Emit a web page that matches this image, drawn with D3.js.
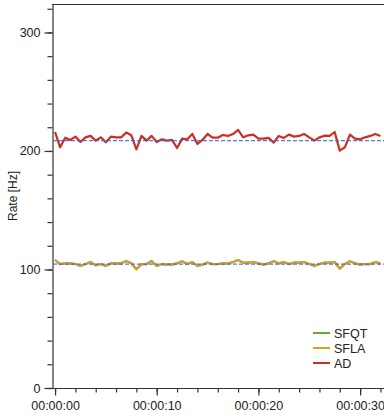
<!DOCTYPE html>
<html><head><meta charset="utf-8">
<script src="https://cdn.jsdelivr.net/npm/d3@7"></script>
<style>
body{margin:0;background:#fff;}
svg{display:block;font-family:"Liberation Sans",Arial,Helvetica,sans-serif;}
</style></head>
<body>
<svg id="c" width="384" height="419"></svg>
<script>
const times = d3.range(0, 32.01, 0.5);
const adValues = [216.0,203.1,211.2,209.3,212.1,207.6,211.5,212.7,208.7,211.5,207.3,212.1,211.5,211.5,215.5,213.2,201.4,212.7,208.7,212.7,207.6,209.8,208.7,209.3,202.5,210.4,209.8,214.3,205.9,209.3,214.3,211.2,211.2,213.5,212.7,214.3,217.7,211.5,213.2,213.8,210.4,210.4,211.0,207.0,212.7,211.0,213.8,212.1,212.7,214.3,211.5,208.7,211.5,212.9,212.7,216.0,200.3,203.1,213.8,210.4,209.8,211.5,212.7,214.3,212.7];
const sflaValues = [108.0,104.6,105.2,105.2,104.6,103.0,104.6,106.3,103.5,104.6,103.0,105.2,105.2,105.2,107.2,105.2,100.2,104.6,104.6,107.2,103.0,104.6,104.1,104.1,105.2,106.9,104.6,106.3,103.0,104.1,105.8,104.6,104.6,105.2,105.2,106.3,108.0,105.8,105.8,106.3,105.2,104.1,105.2,106.9,105.2,106.3,104.6,105.8,105.8,106.3,104.6,103.0,104.6,105.8,105.8,106.3,100.7,104.6,106.9,105.2,104.1,104.6,104.6,106.3,105.2];
const sfqtValues = [108.0,104.6,105.2,105.2,104.6,103.0,104.6,106.3,103.5,104.6,103.0,105.2,105.2,105.2,107.2,105.2,100.2,104.6,104.6,107.2,103.0,104.6,104.1,104.1,105.2,106.9,104.6,106.3,103.0,104.1,105.8,104.6,104.6,105.2,105.2,106.3,108.0,105.8,105.8,106.3,105.2,104.1,105.2,106.9,105.2,106.3,104.6,105.8,105.8,106.3,104.6,103.0,104.6,105.8,105.8,106.3,100.7,104.6,106.9,105.2,104.1,104.6,104.6,106.3,105.2];
const refLevels = [208.7, 104.6];
const seriesNames = ["SFQT","SFLA","AD"];
const seriesColors = ["#6aa83a","#d9a21e","#cc2f1c"];
const yTicks = [0,100,200,300];
const xTicks = [0,10,20,30];
const xTickLabels = ["00:00:00","00:00:10","00:00:20","00:00:30"];

const svg = d3.select("#c");
const x = d3.scaleLinear().domain([-0.3, 32.35]).range([52, 384]);
const y = d3.scaleLinear().domain([0, 324]).range([388, 4]);
const axisColor = "#333";

// top frame
svg.append("line").attr("x1",52).attr("x2",384).attr("y1",4.5).attr("y2",4.5)
  .attr("stroke",axisColor).attr("stroke-width",1.2);

// y axis minor
const yAxMinor = svg.append("g").attr("transform","translate(52.5,0)")
  .call(d3.axisLeft(y).tickValues(d3.range(0,324,20)).tickSize(5).tickFormat(""));
const yAx = svg.append("g").attr("transform","translate(52.5,0)")
  .call(d3.axisLeft(y).tickValues(yTicks).tickSize(8).tickPadding(4));
[yAxMinor,yAx].forEach(g=>{g.selectAll("path,line").attr("stroke",axisColor).attr("stroke-width",1.2);});
yAxMinor.select(".domain").remove();
yAx.select(".domain").attr("d","M0.5,4V388.5");
yAx.selectAll("text").attr("font-size","12.5px").attr("fill","#222").attr("font-family","Liberation Sans, Arial, sans-serif");

// x axis
const xAxMinor = svg.append("g").attr("transform","translate(0,388.5)")
  .call(d3.axisBottom(x).tickValues(d3.range(0,33,2)).tickSize(4).tickFormat(""));
const xAx = svg.append("g").attr("transform","translate(0,388.5)")
  .call(d3.axisBottom(x).tickValues(xTicks).tickSize(7).tickPadding(6).tickFormat((d,i)=>xTickLabels[i]));
[xAxMinor,xAx].forEach(g=>{g.selectAll("path,line").attr("stroke",axisColor).attr("stroke-width",1.2);});
xAxMinor.select(".domain").remove();
xAx.select(".domain").attr("d","M52,0H384");
xAx.selectAll("text").attr("font-size","12.5px").attr("fill","#222").attr("font-family","Liberation Sans, Arial, sans-serif");

// y label
svg.append("text").attr("transform","translate(17,196) rotate(-90)")
  .attr("text-anchor","middle").attr("font-size","12px").attr("fill","#222").text("Rate [Hz]");

// data lines
const line = d3.line().x((d,i)=>x(times[i])).y(d=>y(d));
const allSeries = [sfqtValues, sflaValues, adValues];
allSeries.forEach((vals,k)=>{
  svg.append("path").datum(vals).attr("d",line).attr("fill","none")
    .attr("stroke",seriesColors[k]).attr("stroke-width",2.2).attr("stroke-linejoin","round");
});

// reference dashed lines
refLevels.forEach(v=>{
  svg.append("line").attr("x1",53).attr("x2",384).attr("y1",y(v)).attr("y2",y(v))
    .attr("stroke","#3b5cff").attr("stroke-width",1.3).attr("stroke-dasharray","4,2").attr("opacity",0.85);
});

// legend
const lg = svg.append("g");
seriesNames.forEach((n,i)=>{
  const yy = 333 + i*15;
  lg.append("line").attr("x1",313).attr("x2",330).attr("y1",yy).attr("y2",yy)
    .attr("stroke",seriesColors[i]).attr("stroke-width",2);
  lg.append("text").attr("x",334).attr("y",yy+4.5).attr("font-size","12.5px").attr("fill","#222").text(n);
});
</script>
</body></html>
